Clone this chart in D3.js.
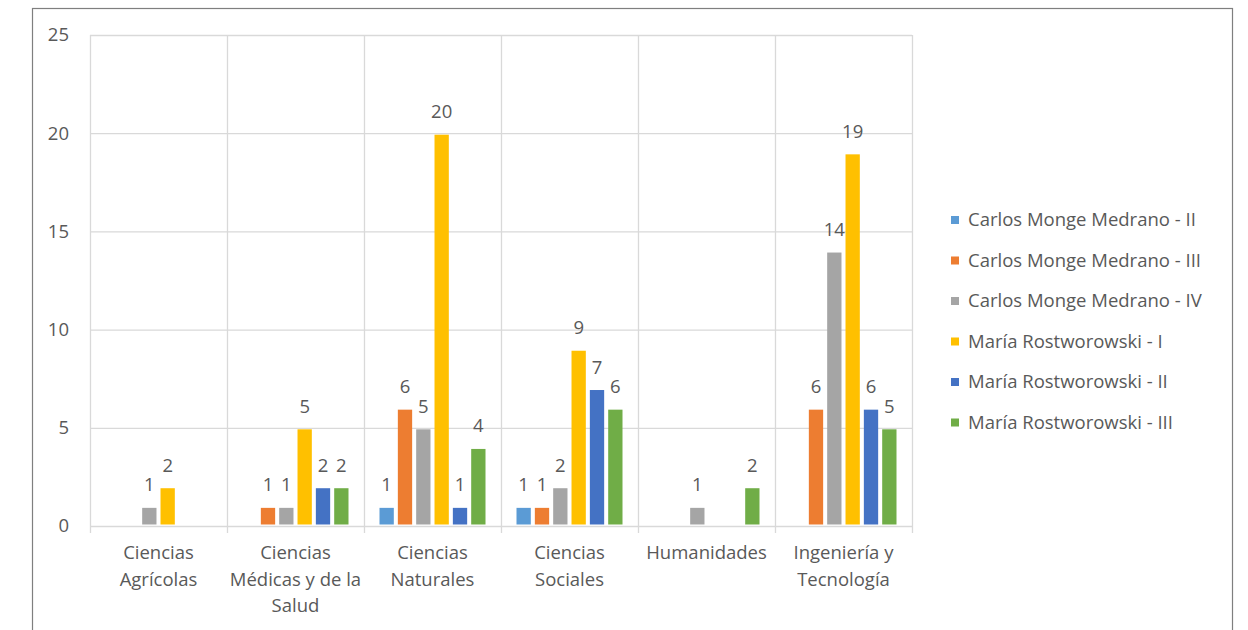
<!DOCTYPE html>
<html>
<head>
<meta charset="utf-8">
<script src="https://cdn.jsdelivr.net/npm/d3@7"></script>
<style>
  body { margin: 0; background: #fff; }
  text { font-family: "Open Sans", Lato, sans-serif; fill: #595959; font-size: 18.5px; }
</style>
</head>
<body>
<div id="chart"></div>
<script>
// chart values
let categories = [
    ["Ciencias", "Agrícolas"],
    ["Ciencias", "Médicas y de la", "Salud"],
    ["Ciencias", "Naturales"],
    ["Ciencias", "Sociales"],
    ["Humanidades"],
    ["Ingeniería y", "Tecnología"]
];
let series = [
    "Carlos Monge Medrano - II",
    "Carlos Monge Medrano - III",
    "Carlos Monge Medrano - IV",
    "María Rostworowski - I",
    "María Rostworowski - II",
    "María Rostworowski - III"
];
let cmmII  = [0, 0, 1, 1, 0, 0];
let cmmIII = [0, 1, 6, 1, 0, 6];
let cmmIV  = [1, 1, 5, 2, 1, 14];
let mrI    = [2, 5, 20, 9, 0, 19];
let mrII   = [0, 2, 1, 7, 0, 6];
let mrIII  = [0, 2, 4, 6, 2, 5];
let yTicks = [0, 5, 10, 15, 20, 25];
let colors = ["#5B9BD5", "#ED7D31", "#A5A5A5", "#FFC000", "#4472C4", "#70AD47"];

let values = [cmmII, cmmIII, cmmIV, mrI, mrII, mrIII];
let catKeys = categories.map(c => c.join(" "));

let width = 1248, height = 630;
let svg = d3.select("#chart")
    .append("svg")
    .attr("width", width)
    .attr("height", height);

// outer frame of the chart (runs off the bottom)
svg.append("rect")
    .attr("x", 32.5).attr("y", 8.5)
    .attr("width", 1200).attr("height", 640)
    .attr("fill", "none")
    .attr("stroke", "#7f7f7f")
    .attr("stroke-width", 1.2);

let plot = { left: 90, right: 912, top: 35, bottom: 526 };

let x0 = d3.scaleBand().domain(catKeys).range([plot.left, plot.right]);
let x1 = d3.scaleBand().domain(series).range([15.5, 121.5]).paddingInner(0.22);
let y = d3.scaleLinear().domain([0, 25]).range([plot.bottom, plot.top]);

// horizontal gridlines
svg.append("g")
    .selectAll("line")
    .data(yTicks)
    .enter()
    .append("line")
    .attr("x1", plot.left).attr("x2", plot.right)
    .attr("y1", d => y(d) + 0.5).attr("y2", d => y(d) + 0.5)
    .attr("stroke", "#d9d9d9")
    .attr("stroke-width", 1.3);

// vertical category gridlines, extending as ticks below the axis
let bounds = catKeys.map(c => x0(c)).concat([plot.right]);
svg.append("g")
    .selectAll("line")
    .data(bounds)
    .enter()
    .append("line")
    .attr("x1", d => Math.round(d) + 0.5).attr("x2", d => Math.round(d) + 0.5)
    .attr("y1", plot.top).attr("y2", plot.bottom + 7)
    .attr("stroke", "#d9d9d9")
    .attr("stroke-width", 1.3);

// y axis labels
svg.append("g")
    .selectAll("text")
    .data(yTicks)
    .enter()
    .append("text")
    .attr("x", 69)
    .attr("y", d => y(d))
    .attr("dy", "0.35em")
    .attr("text-anchor", "end")
    .text(d => d);

// bars
let groups = svg.append("g")
    .selectAll("g")
    .data(catKeys)
    .enter()
    .append("g")
    .attr("transform", d => `translate(${x0(d)},0)`);

groups.each(function (cat, ci) {
    let g = d3.select(this);
    let rows = series.map((s, si) => ({ s: s, si: si, v: values[si][ci] }));
    g.selectAll("rect")
        .data(rows.filter(d => d.v > 0))
        .enter()
        .append("rect")
        .attr("x", d => x1(d.s))
        .attr("y", d => y(d.v) + 1.5)
        .attr("width", x1.bandwidth())
        .attr("height", d => y(0) - y(d.v) - 3)
        .attr("fill", d => colors[d.si]);

    g.selectAll("text")
        .data(rows.filter(d => d.v > 0))
        .enter()
        .append("text")
        .attr("x", d => x1(d.s) + x1.bandwidth() / 2)
        .attr("y", d => y(d.v) - 15)
        .attr("text-anchor", "middle")
        .text(d => d.v);
});

// category labels
let catLabels = svg.append("g")
    .selectAll("text")
    .data(categories)
    .enter()
    .append("text")
    .attr("x", (d, i) => x0(catKeys[i]) + x0.bandwidth() / 2)
    .attr("y", 559)
    .attr("text-anchor", "middle");

catLabels.selectAll("tspan")
    .data(d => d)
    .enter()
    .append("tspan")
    .attr("x", function () { return d3.select(this.parentNode).attr("x"); })
    .attr("dy", (d, i) => i === 0 ? 0 : 26.5)
    .text(d => d);

// legend
let legend = svg.append("g")
    .selectAll("g")
    .data(series)
    .enter()
    .append("g")
    .attr("transform", (d, i) => `translate(951,${220 + i * 40.5})`);

legend.append("rect")
    .attr("x", 0).attr("y", -4)
    .attr("width", 8).attr("height", 8)
    .attr("fill", (d, i) => colors[i]);

legend.append("text")
    .attr("x", 17)
    .attr("y", 0)
    .attr("dy", "0.35em")
    .text(d => d);
</script>
</body>
</html>
